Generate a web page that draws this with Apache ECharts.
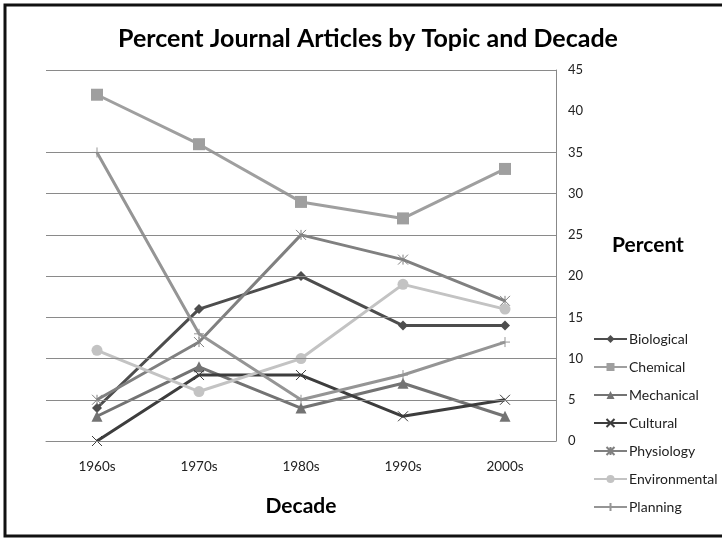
<!DOCTYPE html>
<html><head><meta charset="utf-8">
<script src="https://cdn.jsdelivr.net/npm/echarts@6/dist/echarts.min.js"></script>
<style>html,body{margin:0;padding:0;background:#fff}#c{width:722px;height:538px}</style>
</head><body><div id="c"></div>
<script>
const categories = ['1960s','1970s','1980s','1990s','2000s'];
const biological = [4, 16, 20, 14, 14];
const chemical = [42, 36, 29, 27, 33];
const mechanical = [3, 9, 4, 7, 3];
const cultural = [0, 8, 8, 3, 5];
const physiology = [5, 12, 25, 22, 17];
const environmental = [11, 6, 10, 19, 16];
const planning = [35, 13, 5, 8, 12];
const gridValues = [0, 5, 10, 15, 20, 25, 30, 35, 45];

const FONT = 'Lato, "Open Sans", sans-serif';
const xPath = 'path://M0,0L10,10M10,0L0,10';
const starPath = 'path://M0,0L10,10M10,0L0,10M5,0L5,10';
const plusPath = 'path://M5,0L5,10M0,5L10,5';

function mk(name, data, color, symbol, size, outline) {
  return {
    name, type: 'line', data, z: 3,
    symbol, symbolSize: size,
    lineStyle: { color, width: 3 },
    itemStyle: outline ? { color: 'transparent', borderColor: color, borderWidth: 1 } : { color, borderWidth: 0 },
    emphasis: { disabled: true }
  };
}

const chart = echarts.init(document.getElementById('c'));
chart.setOption({
  animation: false,
  textStyle: { fontFamily: FONT },
  title: {
    text: 'Percent Journal Articles by Topic and Decade',
    left: 363, textAlign: 'center', top: 21,
    textStyle: { fontFamily: FONT, fontSize: 25, fontWeight: 'bold', color: '#000' }
  },
  grid: { left: 46, right: 166, top: 70, bottom: 97 },
  legend: {
    orient: 'vertical', left: 593, top: 332, padding: 0,
    itemWidth: 33, itemHeight: 10, itemGap: 14,
    textStyle: { fontFamily: FONT, fontSize: 14, color: '#222', padding: [0,0,0,-3] },
    data: ['Biological','Chemical','Mechanical','Cultural','Physiology','Environmental','Planning']
  },
  xAxis: {
    type: 'category', data: categories, boundaryGap: true,
    axisLine: { lineStyle: { color: '#888', width: 1 } },
    axisTick: { show: false },
    axisLabel: { color: '#222', fontSize: 13.5, margin: 19, fontFamily: FONT },
    name: 'Decade', nameLocation: 'middle', nameGap: 55,
    nameTextStyle: { fontFamily: FONT, fontSize: 21, fontWeight: 'bold', color: '#000' }
  },
  yAxis: {
    type: 'value', position: 'right', min: 0, max: 45, interval: 5,
    axisLine: { show: true, lineStyle: { color: '#888', width: 1 } },
    axisTick: { show: false },
    splitLine: { show: false },
    axisLabel: { color: '#222', fontSize: 13, margin: 12, fontFamily: FONT },
    name: 'Percent', nameLocation: 'middle', nameRotate: 0, nameGap: 56,
    nameTextStyle: { fontFamily: FONT, fontSize: 21, fontWeight: 'bold', color: '#000', align: 'left', verticalAlign: 'bottom' }
  },
  graphic: [{
    type: 'rect', shape: { x: 5, y: 5, width: 740, height: 531 },
    style: { fill: 'none', stroke: '#111', lineWidth: 3 }, z: 100, silent: true
  }],
  series: [
    {
      name: '_grid', type: 'line', data: [], z: 1, silent: true,
      markLine: {
        silent: true, symbol: 'none', label: { show: false },
        lineStyle: { color: '#8a8a8a', width: 1, type: 'solid' },
        emphasis: { disabled: true },
        data: gridValues.map(v => ({ yAxis: v }))
      }
    },
    mk('Biological', biological, '#4d4d4d', 'diamond', 10),
    mk('Chemical', chemical, '#9f9f9f', 'rect', 12),
    mk('Mechanical', mechanical, '#737373', 'triangle', 11),
    mk('Cultural', cultural, '#3d3d3d', xPath, 10, true),
    mk('Physiology', physiology, '#808080', starPath, 10, true),
    mk('Environmental', environmental, '#c3c3c3', 'circle', 11),
    mk('Planning', planning, '#959595', plusPath, 10, true)
  ]
});
</script></body></html>
